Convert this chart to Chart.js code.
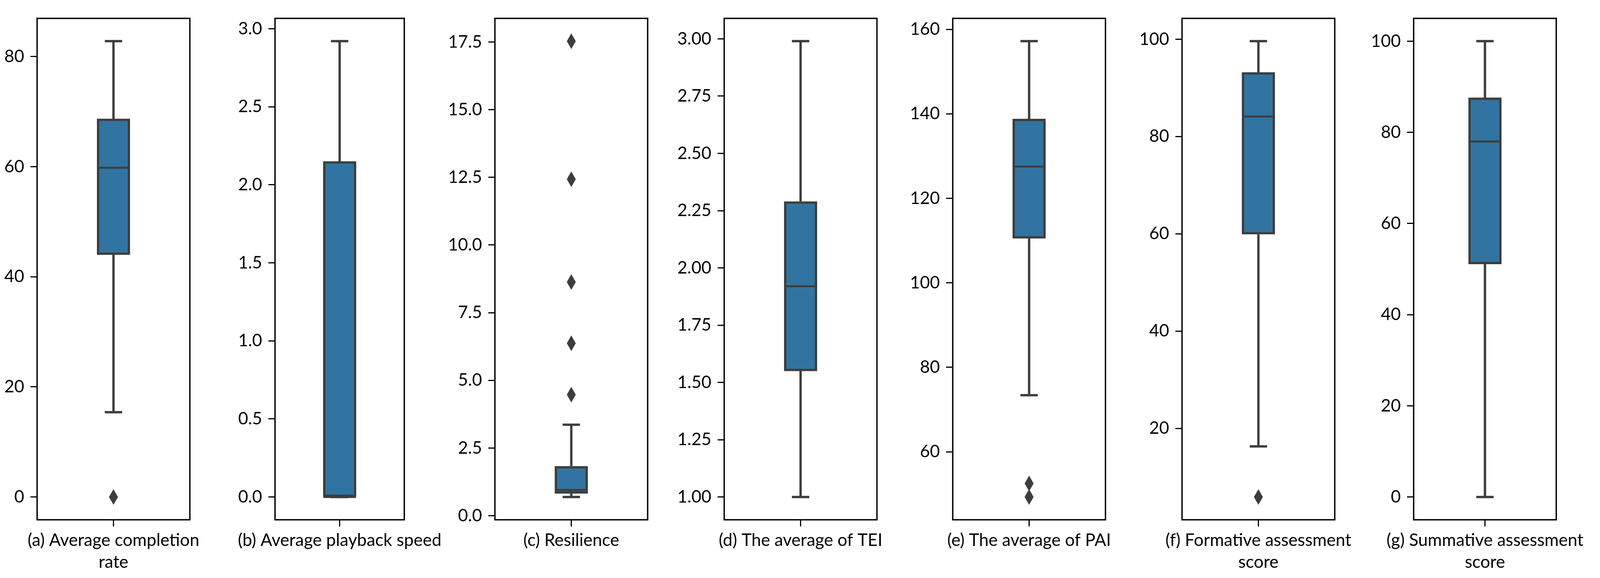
<!DOCTYPE html>
<html><head><meta charset="utf-8">
<script src="https://cdn.jsdelivr.net/npm/chart.js@4.4.1/dist/chart.umd.min.js"></script>
<style>
html,body{margin:0;padding:0;background:#fff;overflow:hidden;position:relative}
canvas{position:absolute;top:0}
</style></head><body>
<script>
// ---------------- data ----------------
const panelTitles = [
  ['(a) Average completion', 'rate'],
  ['(b) Average playback speed'],
  ['(c) Resilience'],
  ['(d) The average of TEI'],
  ['(e) The average of PAI'],
  ['(f) Formative assessment', 'score'],
  ['(g) Summative assessment', 'score']
];
const whiskerLow  = [15.4, 0.00, 0.69, 1.00, 73.4, 16.3, 0.0];
const q1          = [44.0, 0.00, 0.82, 1.55, 110.5, 59.9, 51.1];
const median      = [59.8, 0.00, 0.95, 1.92, 127.5, 84.1, 78.0];
const q3          = [68.7, 2.15, 1.83, 2.29, 138.8, 93.2, 87.6];
const whiskerHigh = [82.8, 2.92, 3.36, 2.99, 157.2, 99.6, 100.0];
const outliers    = [[0.0], [], [4.47, 6.37, 8.63, 12.43, 17.53], [], [52.5, 49.3], [5.9], []];
const tickLabels = [
  ['0', '20', '40', '60', '80'],
  ['0.0', '0.5', '1.0', '1.5', '2.0', '2.5', '3.0'],
  ['0.0', '2.5', '5.0', '7.5', '10.0', '12.5', '15.0', '17.5'],
  ['1.00', '1.25', '1.50', '1.75', '2.00', '2.25', '2.50', '2.75', '3.00'],
  ['60', '80', '100', '120', '140', '160'],
  ['20', '40', '60', '80', '100'],
  ['0', '20', '40', '60', '80', '100']
];

// ---------------- layout / style (designed for 4329 px width) ----------------
const REF_W = 4329, H = 1479;
const VW = Math.min(window.innerWidth || REF_W, REF_W);
const SX = VW / REF_W;
const PANEL_LEFT = [100, 720, 1339, 1959, 2578, 3198, 3818];
const PANEL_W = 413, PLOT_TOP = 47, PLOT_BOTTOM = 1330;
const AXIS_W = 130, PAD_R = 115;
const BOX = '#3274a1', LINE = '#3d3d3d';
const FONT = {family: 'Lato', size: 44};
const XFONT = {family: 'Lato', size: 44, lineHeight: 56 / 44};

document.body.style.width = VW + 'px';
document.body.style.height = H + 'px';

function thinDiamond(w, h, color) {
  const c = document.createElement('canvas');
  c.width = Math.round(w); c.height = h;
  const g = c.getContext('2d');
  g.fillStyle = color;
  g.beginPath();
  g.moveTo(c.width / 2, 0); g.lineTo(c.width, h / 2); g.lineTo(c.width / 2, h); g.lineTo(0, h / 2);
  g.closePath(); g.fill();
  return c;
}

const framePlugin = {
  id: 'frame',
  afterDatasetsDraw(chart) {
    const {ctx, chartArea: a} = chart;
    ctx.save();
    ctx.strokeStyle = '#000';
    ctx.lineWidth = 3.5;
    ctx.strokeRect(a.left, a.top, a.right - a.left, a.bottom - a.top);
    ctx.restore();
  }
};

function build() {
  const diamond = thinDiamond(24 * SX, 40, LINE);
  const axisW = Math.round(AXIS_W * SX), padR = Math.round(PAD_R * SX), panelW = Math.round(PANEL_W * SX);
  for (let i = 0; i < panelTitles.length; i++) {
    const cv = document.createElement('canvas');
    const W = axisW + panelW + padR;
    cv.width = W; cv.height = H;
    cv.style.left = (Math.round(PANEL_LEFT[i] * SX) - axisW) + 'px';
    cv.style.width = W + 'px'; cv.style.height = H + 'px';
    document.body.appendChild(cv);

    const all = [whiskerLow[i], whiskerHigh[i], ...outliers[i]];
    const lo = Math.min(...all), hi = Math.max(...all);
    const m = (hi - lo) * 0.05;
    const labels = tickLabels[i];
    const title = panelTitles[i];

    new Chart(cv, {
      data: {
        datasets: [
          {type: 'scatter', data: [{x: 0, y: median[i]}], pointStyle: 'line', pointRadius: 44 * SX,
           pointBorderWidth: 5, pointBorderColor: LINE, pointBackgroundColor: LINE},
          {type: 'bar', data: [{x: 0, y: [q1[i], q3[i]]}], backgroundColor: BOX, borderColor: LINE,
           borderWidth: 6, borderSkipped: false, barThickness: 89 * SX},
          {type: 'line', data: [{x: 0, y: q3[i]}, {x: 0, y: whiskerHigh[i]}], borderColor: LINE,
           borderWidth: 6, pointStyle: 'line', pointRadius: [0, 23.5 * SX], pointBorderWidth: 6,
           pointBorderColor: LINE, pointBackgroundColor: LINE},
          {type: 'line', data: [{x: 0, y: q1[i]}, {x: 0, y: whiskerLow[i]}], borderColor: LINE,
           borderWidth: 6, pointStyle: 'line', pointRadius: [0, 23.5 * SX], pointBorderWidth: 6,
           pointBorderColor: LINE, pointBackgroundColor: LINE},
          {type: 'scatter', data: outliers[i].map(v => ({x: 0, y: v})), pointStyle: diamond, pointRadius: 20}
        ]
      },
      options: {
        responsive: false,
        animation: false,
        devicePixelRatio: 1,
        layout: {autoPadding: false, padding: {left: 0, right: padR, top: PLOT_TOP, bottom: 0}},
        plugins: {legend: {display: false}, tooltip: {enabled: false}},
        scales: {
          x: {
            type: 'linear', min: -0.5, max: 0.5, offset: false,
            afterBuildTicks: s => { s.ticks = [{value: 0}]; },
            ticks: {callback: () => title, font: XFONT, color: '#000', padding: 8,
                    maxRotation: 0, minRotation: 0, autoSkip: false},
            grid: {display: true, offset: false, drawOnChartArea: false, drawTicks: true,
                   tickLength: 17, tickWidth: 3, tickColor: '#000'},
            border: {display: false},
            afterFit: s => { s.height = H - PLOT_BOTTOM; }
          },
          y: {
            type: 'linear', min: lo - m, max: hi + m,
            afterBuildTicks: s => { s.ticks = labels.map(t => ({value: parseFloat(t)})); },
            ticks: {callback: (v, idx) => labels[idx], font: FONT, color: '#000', padding: 16, autoSkip: false},
            grid: {display: true, drawOnChartArea: false, drawTicks: true, tickLength: 17, tickWidth: 3, tickColor: '#000'},
            border: {display: false},
            afterFit: s => { s.width = axisW; }
          }
        }
      },
      plugins: [framePlugin]
    });
  }
}

(document.fonts && document.fonts.load ? document.fonts.load('44px Lato') : Promise.resolve())
  .then(build, build);
</script>
</body></html>
